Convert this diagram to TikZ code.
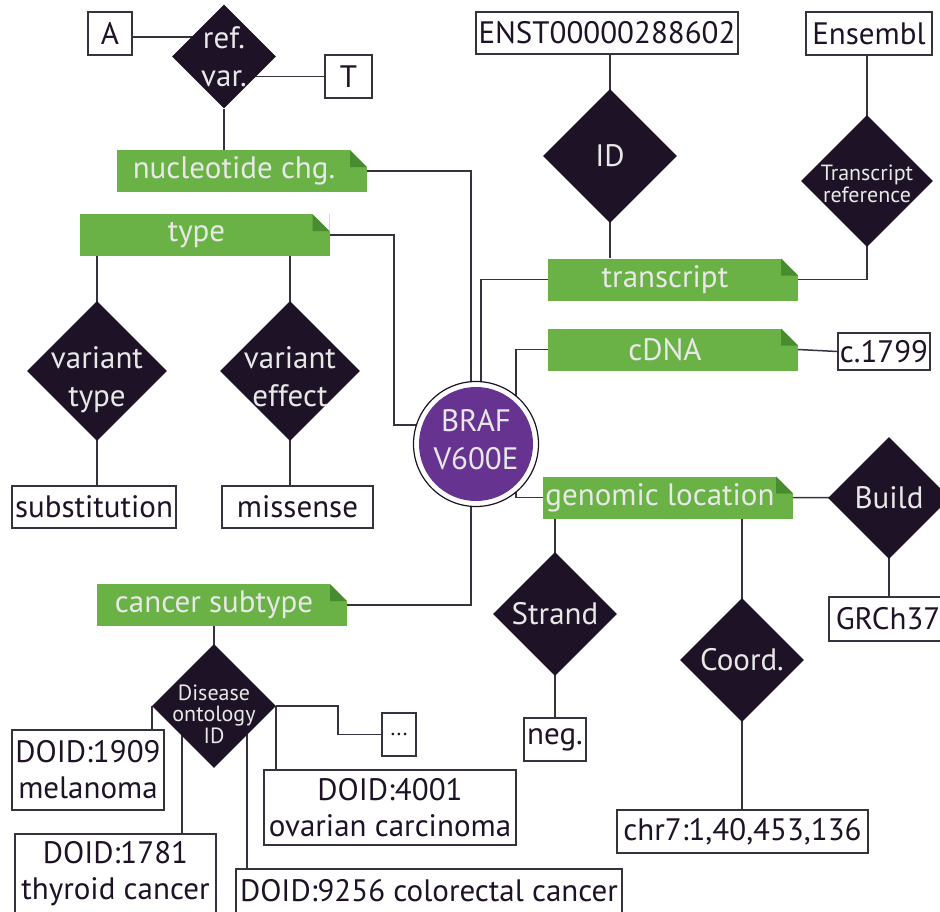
\documentclass[tikz,border=0pt]{standalone}
\usepackage{fontspec}
\setmainfont{PT Sans}
\usetikzlibrary{shapes.geometric,backgrounds}
\definecolor{tagg}{RGB}{106,178,70}
\definecolor{foldg}{RGB}{72,140,48}
\definecolor{dia}{RGB}{30,19,38}
\definecolor{purp}{RGB}{102,52,144}
\definecolor{ltxt}{RGB}{232,232,232}
\definecolor{ln}{RGB}{55,50,62}
\begin{document}
\begin{tikzpicture}[x=1pt,y=-1pt,
  big/.style={font=\fontsize{31}{36}\selectfont},
  small/.style={font=\fontsize{22}{21.5}\selectfont},
  box/.style={draw=ln, line width=1.3pt, fill=white, text=dia, inner sep=0pt, big, align=center},
  dmd/.style={diamond, fill=dia, inner sep=0pt},
  dlab/.style={text=ltxt, align=center, inner sep=0pt, big},
  tag/.style={rectangle, fill=tagg, text=ltxt, minimum width=250, minimum height=42, inner sep=0pt, big,
    path picture={
      \fill[white] ([xshift=-17pt]path picture bounding box.north east) -- (path picture bounding box.north east) -- ([yshift=-17pt]path picture bounding box.north east) -- cycle;
      \fill[foldg] ([xshift=-17pt]path picture bounding box.north east) -- ([xshift=-17pt,yshift=-17pt]path picture bounding box.north east) -- ([yshift=-17pt]path picture bounding box.north east) -- cycle;
    }},
  conn/.style={draw=ln, line width=1.5pt}
]
\useasboundingbox (0,0) rectangle (940,911);
\clip (0,0) rectangle (940,911);

% ---- top left
\node[box, minimum width=44, minimum height=43] (A) at (110,33.5) {A};
\node[box, minimum width=47, minimum height=43] (T) at (348.5,76.5) {T};
\node[dmd, minimum size=104, label={[dlab, font=\fontsize{31}{38}\selectfont]center:{ref.\\var.}}] (rv) at (224,56.5) {};
\node[tag] (nuc) at (242,171) {nucleotide chg.\hspace*{16pt}};

% ---- type branch
\node[tag] (type) at (204.5,235) {type\hspace*{16pt}};
\node[dmd, minimum size=140, label={[dlab, font=\fontsize{31}{38}\selectfont, yshift=-9pt]center:{variant\\type}}] (vt) at (97,371) {};
\node[dmd, minimum size=140, label={[dlab, font=\fontsize{31}{38}\selectfont, yshift=-6pt]center:{variant\\effect}}] (ve) at (290,371) {};
\node[box, minimum width=164, minimum height=42] (subst) at (94,507) {substitution};
\node[box, minimum width=151, minimum height=42] (miss) at (297.5,507) {missense};

% ---- centre
\node[circle, draw=dia, line width=1.2pt, fill=white, minimum size=125, inner sep=0pt,
  path picture={\fill[purp] (path picture bounding box.center) circle (57pt);},
  label={[dlab, font=\fontsize{31}{38}\selectfont, yshift=4pt]center:{BRAF\\V600E}}] (braf) at (476,444) {};

% ---- transcript branch
\node[box, minimum width=262, minimum height=42] (enst) at (607,33) {ENST00000288602};
\node[dmd, minimum size=134, label={[dlab]center:{ID}}] (id) at (610,156) {};
\node[box, minimum width=126, minimum height=43] (ens) at (869,33.5) {Ensembl};
\node[dmd, minimum size=132, label={[dlab, small, yshift=-3pt]center:{Transcript\\reference}}] (trf) at (867,181) {};
\node[tag] (tr) at (673,279.5) {transcript\hspace*{16pt}};

% ---- cDNA
\node[tag] (cdna) at (673,349.5) {cDNA\hspace*{16pt}};
\node[box, minimum width=92, minimum height=37] (c1799) at (884,351.5) {c.1799};

% ---- genomic location
\node[tag] (gen) at (668,497.5) {genomic location\hspace*{16pt}};
\node[dmd, minimum size=122, label={[dlab]center:{Build}}] (build) at (889,498) {};
\node[box, minimum width=118, minimum height=44] (grch) at (888,619) {GRCh37};
\node[dmd, minimum size=124, label={[dlab]center:{Strand}}] (strand) at (555,614) {};
\node[box, minimum width=62, minimum height=43] (neg) at (555,739.5) {neg.};
\node[dmd, minimum size=124, label={[dlab]center:{Coord.}}] (coord) at (742,660) {};
\node[box, minimum width=251, minimum height=43] (chr) at (742.5,831.5) {chr7:1,40,453,136};

% ---- cancer subtype
\node[tag] (can) at (222,605) {cancer subtype\hspace*{16pt}};
\node[dmd, minimum size=124, label={[dlab, small, yshift=-8pt]center:{Disease\\ontology\\ID}}] (dis) at (214,706) {};
\node[box, minimum width=152, minimum height=80] (d1909) at (88,770) {DOID:1909\\melanoma};
\node[box, minimum width=201, minimum height=80] (d1781) at (115.5,874) {DOID:1781\\thyroid cancer};
\node[box, minimum width=252, minimum height=75] (d4001) at (390,807.5) {DOID:4001\\ovarian carcinoma};
\node[box, minimum width=386, minimum height=44] (d9256) at (429,891) {DOID:9256 colorectal cancer};
\node[box, minimum width=34, minimum height=43, font=\fontsize{22}{24}\selectfont] (dots) at (399,734.5) {...};

% ---- connectors
\begin{scope}[on background layer]
\draw[conn] ([yshift=-3.5pt]A.east) -- ([yshift=-3.5pt]A.east -| rv.center);
\draw[conn] (T.west) -- (T.west -| rv.center);
\draw[conn] (rv.south) -- (rv.south |- nuc.north);
\draw[conn] (nuc.east) -| ([xshift=-5pt]braf.center);
\coordinate (tc) at (394,425);
\draw[conn] (type.east) -| (tc) -- (tc -| braf.center);
\draw[conn] (vt.center |- type.south) -- (vt.center) -- (vt.center |- subst.north);
\draw[conn] (ve.center |- type.south) -- (ve.center) -- (ve.center |- miss.north);
\draw[conn] (id.center |- enst.south) -- (id.center) -- (id.center |- tr.north);
\draw[conn] (tr.west) -| ([xshift=5pt]braf.center);
\draw[conn] (tr.east) -| (trf.center);
\draw[conn] (trf.center) -- (trf.center |- ens.south);
\draw[conn] (cdna.west) -| ([xshift=40pt]braf.center);
\draw[conn] (cdna.east) -- (c1799.west);
\draw[conn] (gen.west) -| ([xshift=40pt]braf.center);
\draw[conn] (gen.east) -- (build.center);
\draw[conn] (build.center) -- (build.center |- grch.north);
\draw[conn] (strand.center |- gen.south) -- (strand.center) -- (strand.center |- neg.north);
\draw[conn] (coord.center |- gen.south) -- (coord.center) -- (coord.center |- chr.north);
\draw[conn] (can.east) -| ([xshift=-5pt]braf.center);
\draw[conn] (dis.center |- can.south) -- (dis.center);
\draw[conn] (dis.west) -- (dis.west |- d1909.north);
\draw[conn] ([xshift=-32pt]dis.center) -- ([xshift=-32pt]dis.center |- d1781.north);
\draw[conn] ([xshift=33pt]dis.center) -- ([xshift=33pt]dis.center |- d9256.north);
\draw[conn] (dis.east) -- (dis.east |- d4001.north);
\draw[conn] (dis.east) -- ++(62,0) |- (dots.west);
\end{scope}
\end{tikzpicture}
\end{document}
